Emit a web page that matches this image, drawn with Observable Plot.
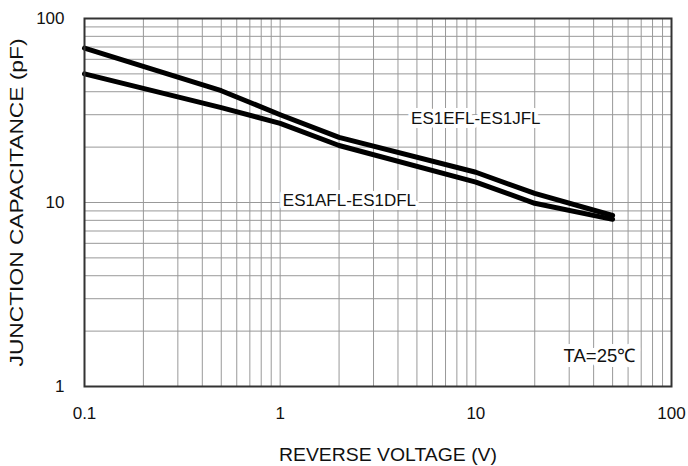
<!DOCTYPE html>
<html>
<head>
<meta charset="utf-8">
<script src="https://cdn.jsdelivr.net/npm/d3@7"></script>
<script src="https://cdn.jsdelivr.net/npm/@observablehq/plot@0.6"></script>
<style>
  html, body { margin: 0; padding: 0; background: #fff; }
</style>
</head>
<body>
<div id="chart"></div>
<script>
// Tick labels
const xTicks = [0.1, 1, 10, 100];
const yTicks = [1, 10, 100];
// Grid lines (log decades, 1..9 within each)
const xGrid = [0.2, 0.3, 0.4, 0.5, 0.6, 0.7, 0.8, 0.9, 1, 2, 3, 4, 5, 6, 7, 8, 9, 10, 20, 30, 40, 50, 60, 70, 80, 90];
const yGrid = [2, 3, 4, 5, 6, 7, 8, 9, 10, 20, 30, 40, 50, 60, 70, 80, 90];

// Series: ES1EFL-ES1JFL
const ejVoltage = [0.1, 0.5, 1, 2, 10, 20, 50];
const ejCap     = [69, 40.5, 30, 22.6, 14.6, 11.2, 8.5];
// Series: ES1AFL-ES1DFL
const adVoltage = [0.1, 0.5, 1, 2, 10, 20, 50];
const adCap     = [50, 32.8, 26.9, 20.4, 12.9, 9.9, 8.1];

const seriesNames = ["ES1EFL-ES1JFL", "ES1AFL-ES1DFL"];
const noteText = "TA=25\u2103";
const xTitle = "REVERSE VOLTAGE (V)";
const yTitle = "JUNCTION CAPACITANCE (pF)";

const ej = ejVoltage.map((v, i) => ({v, c: ejCap[i]}));
const ad = adVoltage.map((v, i) => ({v, c: adCap[i]}));

const font = "Liberation Sans, Arial, sans-serif";

const chart = Plot.plot({
  width: 688,
  height: 466,
  marginLeft: 84,
  marginRight: 17,
  marginTop: 18,
  marginBottom: 80,
  style: {fontFamily: font, fontSize: "17px", color: "#111", background: "#fff"},
  x: {type: "log", domain: [0.1, 100]},
  y: {type: "log", domain: [1, 100]},
  marks: [
    Plot.ruleX(xGrid, {stroke: "#999", strokeWidth: 1}),
    Plot.ruleY(yGrid, {stroke: "#999", strokeWidth: 1}),
    Plot.axisX({ticks: xTicks, tickFormat: d => String(d), tickSize: 0, tickPadding: 20, label: null, fontSize: 17}),
    Plot.axisY({ticks: yTicks, tickFormat: d => String(d), tickSize: 0, tickPadding: 20, label: null, fontSize: 17}),
    // series labels with white halo
    Plot.text([seriesNames[0]], {x: 10, y: 28.6, text: d => d, fill: "#111", stroke: "#fff", strokeWidth: 8, fontSize: 17}),
    Plot.text([seriesNames[1]], {x: 2.26, y: 10.25, text: d => d, fill: "#111", stroke: "#fff", strokeWidth: 8, fontSize: 17}),
    Plot.text([noteText], {x: 42.8, y: 1.47, text: d => d, fill: "#111", stroke: "#fff", strokeWidth: 10, fontSize: 18.5}),
    Plot.line(ej, {x: "v", y: "c", stroke: "#000", strokeWidth: 5, strokeLinejoin: "round", strokeLinecap: "round"}),
    Plot.line(ad, {x: "v", y: "c", stroke: "#000", strokeWidth: 5, strokeLinejoin: "round", strokeLinecap: "round"}),
    Plot.frame({stroke: "#333", strokeWidth: 2}),
    Plot.text([xTitle], {frameAnchor: "bottom", dx: 10, dy: 69, lineAnchor: "middle", textAnchor: "middle", text: d => d, fill: "#111", fontSize: 18, className: "xtitle"}),
    Plot.text([yTitle], {frameAnchor: "left", dx: -67, dy: 0, rotate: -90, textAnchor: "middle", lineAnchor: "middle", text: d => d, fill: "#111", fontSize: 18, className: "ytitle"})
  ]
});
// stretch axis titles horizontally like the reference
chart.querySelectorAll(".xtitle text").forEach(t => { t.setAttribute("textLength", 218); t.setAttribute("lengthAdjust", "spacingAndGlyphs"); });
chart.querySelectorAll(".ytitle text").forEach(t => { t.setAttribute("textLength", 328); t.setAttribute("lengthAdjust", "spacingAndGlyphs"); });
document.getElementById("chart").appendChild(chart);
</script>
</body>
</html>
